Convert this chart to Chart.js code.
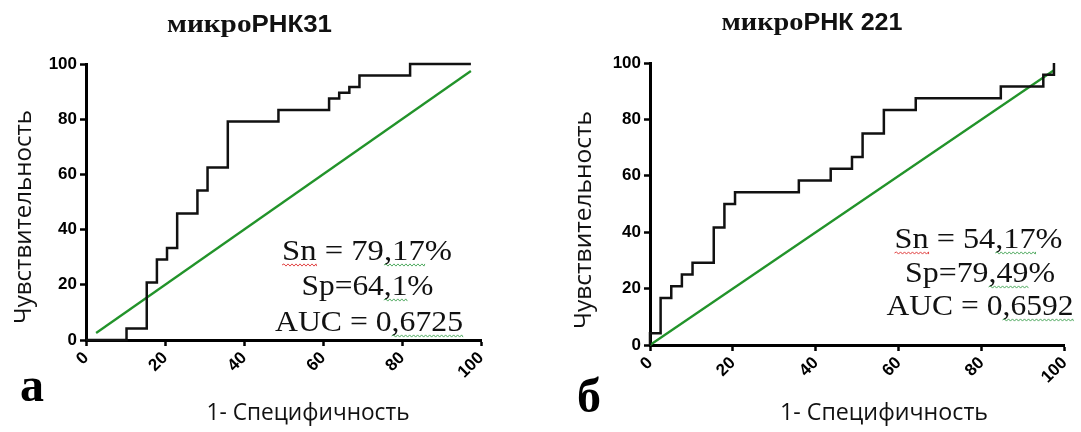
<!DOCTYPE html>
<html>
<head>
<meta charset="utf-8">
<script src="https://cdn.jsdelivr.net/npm/chart.js@4.4.1/dist/chart.umd.min.js"></script>
<style>
  html, body { margin: 0; padding: 0; background: #fff; }
  body { width: 1081px; height: 432px; position: relative; overflow: hidden; }
  .panel { position: absolute; top: 0; height: 432px; }
  #p31 { left: 0; width: 540px; }
  #p221 { left: 540px; width: 541px; }
</style>
</head>
<body>
<div class="panel" id="p31"><canvas id="c31"></canvas></div>
<div class="panel" id="p221"><canvas id="c221"></canvas></div>
<script>
// Tick values shared by both axes (percent)
const axisTicks = [0, 20, 40, 60, 80, 100];

// miRNA-31: ROC cut-off points, 1 - specificity (%) and sensitivity (%)
const roc31Fpr = [0, 10.26, 15.38, 17.95, 20.51, 23.08, 28.21, 30.77, 35.90, 48.72, 61.54, 64.10, 66.67, 69.23, 82.05, 97.44];
const roc31Tpr = [0, 0, 4.17, 20.83, 29.17, 33.33, 45.83, 54.17, 62.50, 79.17, 83.33, 87.50, 89.58, 91.67, 95.83, 100];
// miRNA-31: line of no discrimination
const ref31X = [2.56, 97.44];
const ref31Y = [2.56, 97.44];
const stats31 = ['Sn = 79,17%', 'Sp=64,1%', 'AUC = 0,6725'];

// miRNA-221: ROC cut-off points
const roc221Fpr = [0, 2.56, 5.13, 7.69, 10.26, 15.38, 17.95, 20.51, 35.90, 43.59, 48.72, 51.28, 56.41, 64.10, 84.62, 94.87, 97.44, 97.44];
const roc221Tpr = [0, 4.17, 16.67, 20.83, 25.00, 29.17, 41.67, 50.00, 54.17, 58.33, 62.50, 66.67, 75.00, 83.33, 87.50, 91.67, 95.83, 100];
const ref221X = [0, 97.44];
const ref221Y = [0, 97.44];
const stats221 = ['Sn = 54,17%', 'Sp=79,49%', 'AUC = 0,6592'];

const yTitle = 'Чувствительность';
const xTitle = '1- Специфичность';

const RED = 'rgba(220,40,40,0.85)';
const GREEN = 'rgba(40,150,60,0.8)';
const INK = '#111';

function toPoints(xs, ys) { return xs.map((x, i) => ({ x, y: ys[i] })); }

// text squeezed/stretched horizontally to a given width
function fittedText(ctx, text, cx, baseline, font, width, rot) {
  ctx.font = font;
  const w = ctx.measureText(text).width;
  const sx = width / w;
  ctx.save();
  ctx.translate(cx, baseline);
  if (rot) ctx.rotate(rot);
  ctx.scale(sx, 1);
  ctx.textAlign = 'center';
  ctx.textBaseline = rot ? 'middle' : 'alphabetic';
  ctx.fillStyle = INK;
  ctx.fillText(text, 0, 0);
  ctx.restore();
  return { left: cx - width / 2, sx };
}

function wavy(ctx, x0, x1, y, color) {
  ctx.save();
  ctx.strokeStyle = color;
  ctx.lineWidth = 1;
  ctx.beginPath();
  ctx.moveTo(x0, y);
  let up = true;
  for (let x = x0; x < x1; x += 2) {
    ctx.lineTo(Math.min(x + 2, x1), y + (up ? -1.1 : 1.1));
    up = !up;
  }
  ctx.stroke();
  ctx.restore();
}

const panelText = {
  id: 'panelText',
  afterDraw(chart, args, o) {
    const ctx = chart.ctx;
    // heading: serif prefix + sans-serif gene name
    let total = 0;
    const widths = o.title.map(p => { ctx.font = p.font; const w = ctx.measureText(p.text).width; total += w; return w; });
    const sx = o.titleBox.w / total;
    ctx.save();
    ctx.translate(o.titleBox.cx - o.titleBox.w / 2, o.titleBox.y);
    ctx.scale(sx, 1);
    ctx.fillStyle = INK;
    ctx.textAlign = 'left';
    ctx.textBaseline = 'alphabetic';
    let x = 0;
    o.title.forEach((p, i) => { ctx.font = p.font; ctx.fillText(p.text, x, 0); x += widths[i]; });
    ctx.restore();

    // axis titles
    fittedText(ctx, yTitle, o.yTitle.cx, o.yTitle.cy, '24px "Open Sans"', o.yTitle.len, -Math.PI / 2);
    fittedText(ctx, xTitle, o.xTitle.cx, o.xTitle.y, '24px "Open Sans"', o.xTitle.len, 0);

    // panel letter
    ctx.save();
    ctx.font = 'bold 48px "Liberation Serif"';
    ctx.fillStyle = '#000';
    ctx.textAlign = 'left';
    ctx.textBaseline = 'alphabetic';
    ctx.fillText(o.letter.text, o.letter.x, o.letter.y);
    ctx.restore();

    // statistics block with wavy underlines
    const font = '30px "Liberation Serif"';
    o.stats.forEach((line, i) => {
      const L = o.statsBox[i];
      const r = fittedText(ctx, line, L.cx, L.y, font, L.w, 0);
      ctx.font = font;
      (o.marks[i] || []).forEach(([a, b, col]) => {
        const x0 = r.left + ctx.measureText(line.slice(0, a)).width * r.sx;
        const x1 = r.left + ctx.measureText(line.slice(0, b)).width * r.sx;
        wavy(ctx, x0, x1, L.y + 5, col);
      });
    });
  }
};

function rocChart(id, size, area, fpr, tpr, refX, refY, text) {
  const tickFont = { family: '"Liberation Sans", Arial, sans-serif', size: 17, weight: 'bold' };
  const common = {
    type: 'linear', min: 0, max: 100,
    afterBuildTicks: s => { s.ticks = axisTicks.map(v => ({ value: v })); },
    grid: { drawOnChartArea: false, drawTicks: true, tickLength: 6, tickWidth: 2.5, tickColor: '#000' },
    border: { display: true, color: '#000', width: 3 }
  };
  return new Chart(document.getElementById(id), {
    type: 'scatter',
    data: {
      datasets: [
        { data: toPoints(fpr, tpr), showLine: true, stepped: 'after', borderColor: '#111', borderWidth: 2.5,
          pointRadius: 0, clip: false },
        { data: toPoints(refX, refY), showLine: true, borderColor: '#22932a', borderWidth: 2.3,
          pointRadius: 0, clip: false }
      ]
    },
    options: {
      responsive: true,
      maintainAspectRatio: false,
      devicePixelRatio: 1,
      animation: false,
      events: [],
      layout: { padding: { left: 0, top: area.top, right: size.w - area.right, bottom: 0 } },
      scales: {
        x: Object.assign({}, common, {
          ticks: { minRotation: 45, maxRotation: 45, autoSkip: false, padding: 2, font: tickFont, color: '#000' },
          afterFit: s => { s.height = size.h - area.bottom; }
        }),
        y: Object.assign({}, common, {
          ticks: { padding: 3, font: tickFont, color: '#000' },
          afterFit: s => { s.width = area.left; }
        })
      },
      plugins: {
        legend: { display: false },
        tooltip: { enabled: false },
        panelText: text
      }
    },
    plugins: [panelText]
  });
}

const serifBold = 'bold 26px "Liberation Serif"';
const sansBold = 'bold 23px "Liberation Sans"';

rocChart('c31', { w: 540, h: 432 }, { left: 86, right: 481, top: 64, bottom: 340 },
  roc31Fpr, roc31Tpr, ref31X, ref31Y, {
    title: [{ text: 'микро', font: serifBold }, { text: 'РНК31', font: sansBold }],
    titleBox: { cx: 249.5, y: 31.5, w: 165 },
    yTitle: { cx: 24, cy: 217, len: 214 },
    xTitle: { cx: 308, y: 420, len: 203 },
    letter: { text: 'а', x: 20, y: 401 },
    stats: stats31,
    statsBox: [{ cx: 367, y: 260, w: 170 }, { cx: 367.5, y: 295, w: 132 }, { cx: 369, y: 331, w: 188 }],
    marks: [[[0, 2, RED], [7, 10, GREEN]], [[5, 7, GREEN]], [[7, 12, GREEN]]]
  });

rocChart('c221', { w: 541, h: 432 }, { left: 110, right: 525, top: 63, bottom: 345 },
  roc221Fpr, roc221Tpr, ref221X, ref221Y, {
    title: [{ text: 'микро', font: serifBold }, { text: 'РНК 221', font: sansBold }],
    titleBox: { cx: 272, y: 29.5, w: 181 },
    yTitle: { cx: 44, cy: 220, len: 218 },
    xTitle: { cx: 344, y: 420, len: 208 },
    letter: { text: 'б', x: 37, y: 412 },
    stats: stats221,
    statsBox: [{ cx: 438.5, y: 248, w: 168 }, { cx: 440, y: 282, w: 150 }, { cx: 440, y: 315, w: 187 }],
    marks: [[[0, 2, RED], [7, 10, GREEN]], [[5, 8, GREEN]], [[7, 12, GREEN]]]
  });
</script>
</body>
</html>
